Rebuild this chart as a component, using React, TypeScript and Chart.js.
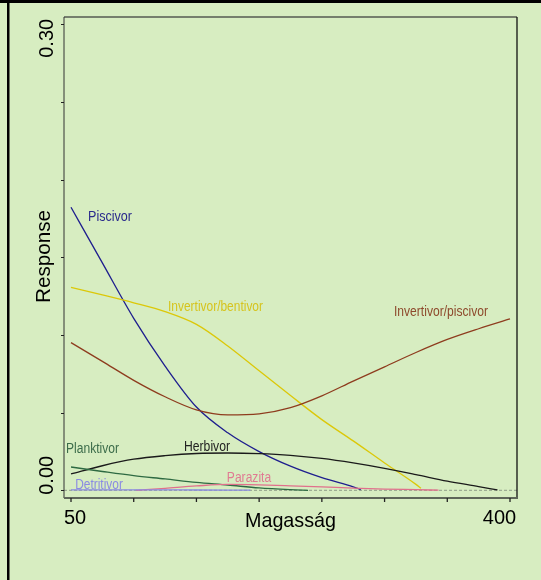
import { useEffect, useRef } from "react";
import { Chart, registerables } from "chart.js";

Chart.register(...registerables);

// ---- data ----
const xTicks = [50, 100, 150, 200, 250, 300, 350, 400];
const xTickLabels = ["50", "", "", "", "", "", "", "400"];
const yTicks = [0, 0.05, 0.1, 0.15, 0.2, 0.25, 0.3];
const yTickLabels = ["0.00", "", "", "", "", "", "0.30"];

const piscivorX = [50, 75, 100, 125, 150, 175, 200, 225, 250, 275, 281];
const piscivorY = [0.1822, 0.1464, 0.1107, 0.08, 0.0536, 0.037, 0.0249, 0.0155, 0.0081, 0.0022, 0.0005];

const bentivorX = [50, 75, 100, 125, 150, 175, 200, 225, 250, 275, 300, 325, 329];
const bentivorY = [0.1307, 0.1258, 0.1207, 0.115, 0.1068, 0.0929, 0.0769, 0.061, 0.0455, 0.0318, 0.0176, 0.0038, 0.0013];

const invPiscX = [50, 75, 100, 125, 150, 175, 200, 225, 250, 275, 300, 325, 350, 375, 400];
const invPiscY = [0.0951, 0.083, 0.0708, 0.0602, 0.0518, 0.0485, 0.0492, 0.0532, 0.0608, 0.0703, 0.0795, 0.0887, 0.0971, 0.104, 0.1103];

const herbivorX = [50, 75, 100, 125, 150, 175, 200, 225, 250, 275, 300, 325, 350, 375, 390];
const herbivorY = [0.0105, 0.0158, 0.02, 0.0223, 0.0237, 0.024, 0.0236, 0.0225, 0.0205, 0.0176, 0.0141, 0.0101, 0.0059, 0.0024, 0.0002];

const planktivorX = [50, 75, 100, 125, 150, 175, 200, 225, 239];
const planktivorY = [0.015, 0.0121, 0.0094, 0.0073, 0.0051, 0.0034, 0.0015, 0.0004, 0.0];

const parazitaX = [102, 125, 150, 175, 200, 225, 250, 275, 300, 325, 343];
const parazitaY = [0, 0.0013, 0.0028, 0.0038, 0.0035, 0.0029, 0.0022, 0.0014, 0.0008, 0.0004, 0.0001];

const detritivorX = [50, 100, 150, 193];
const detritivorY = [0.0003, 0.0003, 0.0002, 0.0001];

const seriesNames = ["Piscivor", "Invertivor/bentivor", "Invertivor/piscivor", "Herbivor", "Planktivor", "Parazita", "Detritivor"];

const pts = (xs: number[], ys: number[]) => xs.map((x, i) => ({ x, y: ys[i] }));

const FONT = "'Liberation Sans', Arial, sans-serif";

const labelSpecs = [
  { text: "Piscivor", x: 110, y: 220.5, w: 44, color: "#2a2a8c" },
  { text: "Invertivor/bentivor", x: 215.5, y: 310.5, w: 95, color: "#d6c41e" },
  { text: "Invertivor/piscivor", x: 441, y: 315.5, w: 94, color: "#8e4a2c" },
  { text: "Herbivor", x: 207, y: 450.5, w: 46, color: "#222222" },
  { text: "Planktivor", x: 92.5, y: 452.5, w: 53, color: "#3c6c4a" },
  { text: "Parazita", x: 249, y: 481.5, w: 44.3, color: "#e07a92" },
  { text: "Detritivor", x: 99, y: 488.5, w: 47.7, color: "#8a8ae2" },
];

const decor = {
  id: "decor",
  beforeDraw(chart: any) {
    const c = chart.ctx;
    c.save();
    c.fillStyle = "#d7edc1";
    c.fillRect(0, 0, chart.width, chart.height);
    c.restore();
  },
  beforeDatasetsDraw(chart: any) {
    const c = chart.ctx;
    const a = chart.chartArea;
    const y0 = chart.scales.y.getPixelForValue(0);
    c.save();
    c.strokeStyle = "#8e9c88";
    c.lineWidth = 1;
    c.setLineDash([3, 2]);
    c.beginPath();
    c.moveTo(a.left, y0);
    c.lineTo(a.right, y0);
    c.stroke();
    c.restore();
  },
  afterDatasetsDraw(chart: any) {
    const c = chart.ctx;
    const a = chart.chartArea;
    const xs = chart.scales.x;
    const ys = chart.scales.y;
    c.save();
    // plot box
    c.lineWidth = 1.3;
    c.strokeStyle = "#555a50";
    c.beginPath();
    c.moveTo(a.left, a.top);
    c.lineTo(a.right, a.top);
    c.stroke();
    c.strokeStyle = "#111111";
    c.beginPath();
    c.moveTo(a.right, a.top);
    c.lineTo(a.right, a.bottom);
    c.stroke();
    c.strokeStyle = "#333333";
    c.lineWidth = 1;
    c.beginPath();
    c.moveTo(a.left, a.top);
    c.lineTo(a.left, a.bottom);
    c.stroke();
    c.strokeStyle = "#5e6659";
    c.lineWidth = 2;
    c.beginPath();
    c.moveTo(a.left, a.bottom);
    c.lineTo(a.right + 1, a.bottom);
    c.stroke();
    // y ticks
    c.strokeStyle = "#222222";
    c.lineWidth = 1;
    yTicks.forEach((v) => {
      const p = Math.round(ys.getPixelForValue(v)) + 0.5;
      c.beginPath();
      c.moveTo(a.left - 3, p);
      c.lineTo(a.left, p);
      c.stroke();
    });
    // x ticks
    c.lineWidth = 1.3;
    xTicks.forEach((v) => {
      const p = xs.getPixelForValue(v);
      c.beginPath();
      c.moveTo(p, a.bottom);
      c.lineTo(p, a.bottom + 4);
      c.stroke();
    });
    // tick labels
    c.fillStyle = "#000000";
    c.font = `20px ${FONT}`;
    c.textAlign = "center";
    c.textBaseline = "alphabetic";
    const xLabelOffsets = [4, 0, 0, 0, 0, 0, 0, -10.5];
    xTicks.forEach((v, i) => {
      if (!xTickLabels[i]) return;
      c.fillText(xTickLabels[i], xs.getPixelForValue(v) + xLabelOffsets[i], 524);
    });
    yTicks.forEach((v, i) => {
      if (!yTickLabels[i]) return;
      const p = ys.getPixelForValue(v) + (i === 0 ? -15 : 14);
      c.save();
      c.translate(53, p);
      c.rotate(-Math.PI / 2);
      c.fillText(yTickLabels[i], 0, 0);
      c.restore();
    });
    // axis titles
    c.font = `21px ${FONT}`;
    c.fillText("Magasság", 290.5, 527, 91);
    c.save();
    c.translate(49.5, 256.5);
    c.rotate(-Math.PI / 2);
    c.fillText("Response", 0, 0, 93);
    c.restore();
    // series labels
    c.font = `14px ${FONT}`;
    labelSpecs.forEach((l) => {
      c.fillStyle = l.color;
      c.fillText(l.text, l.x, l.y, l.w);
    });
    // outer frame
    c.fillStyle = "#000000";
    c.fillRect(0, 0, chart.width, 3);
    c.fillRect(7, 0, 2.5, chart.height);
    c.restore();
  },
};

export default function App() {
  const ref = useRef<HTMLCanvasElement | null>(null);
  useEffect(() => {
    if (!ref.current) return;
    const mk = (i: number, xs: number[], ys: number[], color: string) => ({
      label: seriesNames[i],
      data: pts(xs, ys),
      borderColor: color,
      backgroundColor: color,
      borderWidth: 1.3,
      pointRadius: 0,
      fill: false,
      cubicInterpolationMode: "monotone" as const,
    });
    const chart = new Chart(ref.current, {
      type: "line",
      data: {
        datasets: [
          mk(6, detritivorX, detritivorY, "#8a8ae2"),
          mk(5, parazitaX, parazitaY, "#e0708c"),
          mk(4, planktivorX, planktivorY, "#2e6a42"),
          mk(3, herbivorX, herbivorY, "#1a1a1a"),
          mk(2, invPiscX, invPiscY, "#8e3c1e"),
          mk(1, bentivorX, bentivorY, "#dcc808"),
          mk(0, piscivorX, piscivorY, "#1e1e8e"),
        ],
      },
      options: {
        responsive: false,
        animation: false,
        devicePixelRatio: 1,
        layout: { padding: { left: 64, top: 17, right: 24, bottom: 82 } },
        plugins: { legend: { display: false }, tooltip: { enabled: false } },
        scales: {
          x: { type: "linear", min: 44.415, max: 405.585, display: false },
          y: { type: "linear", min: -0.00496, max: 0.3047, display: false },
        },
      },
      plugins: [decor],
    });
    return () => chart.destroy();
  }, []);
  return (
    <canvas
      ref={ref}
      width={541}
      height={580}
      style={{ position: "absolute", left: 0, top: 0, display: "block" }}
    />
  );
}
